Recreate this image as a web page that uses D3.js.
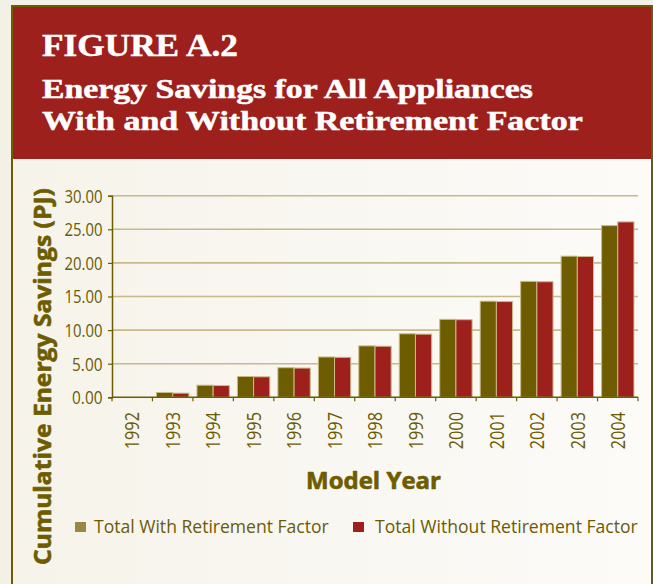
<!DOCTYPE html>
<html>
<head>
<meta charset="utf-8">
<script src="https://cdn.jsdelivr.net/npm/d3@7"></script>
<style>
  html, body { margin: 0; padding: 0; background: #f3f0e5; }
  svg { display: block; }
</style>
</head>
<body>
<svg id="chart" width="653" height="584"></svg>
<script>
// Model years on the x axis
const years = ["1992","1993","1994","1995","1996","1997","1998","1999","2000","2001","2002","2003","2004"];
// Cumulative energy savings (PJ)
const withRetirement    = [0, 0.72, 1.8, 3.1, 4.4, 6.0, 7.65, 9.45, 11.6, 14.3, 17.25, 21.0, 25.55];
const withoutRetirement = [0, 0.62, 1.75, 3.05, 4.35, 5.95, 7.6, 9.4, 11.55, 14.25, 17.2, 20.95, 26.1];
const seriesNames = ["Total With Retirement Factor", "Total Without Retirement Factor"];
const yTicks = [0, 5, 10, 15, 20, 25, 30];

const OLIVE = "#6d5c00", RED = "#9e201d", TEXT = "#6b5a05";
const SANS = "Open Sans, sans-serif", SERIF = "Liberation Serif, serif";

const svg = d3.select("#chart");

// Place a text at (x, y) with optional rotation, stretched or squeezed along its
// baseline so that it spans `len` pixels.
function placeText(parent, opt) {
  const g = parent.append("g");
  const t = g.append("text")
    .attr("x", 0).attr("y", 0)
    .attr("text-anchor", opt.anchor || "start")
    .attr("font-family", opt.family || SANS)
    .attr("font-size", opt.size)
    .attr("font-weight", opt.weight || "normal")
    .attr("fill", opt.fill)
    .text(opt.text);
  if (opt.stroke) t.attr("stroke", opt.fill).attr("stroke-width", opt.stroke).attr("stroke-linejoin", "round");
  const w = t.node().getComputedTextLength();
  const k = opt.len ? opt.len / w : 1;
  g.attr("transform", `translate(${opt.x},${opt.y}) rotate(${opt.rotate || 0}) scale(${k},1)`);
  return g;
}

// panel background with soft left-to-right lightening
const defs = svg.append("defs");
const grad = defs.append("linearGradient").attr("id", "panelBg").attr("x1", 0).attr("x2", 1).attr("y1", 0).attr("y2", 0);
grad.append("stop").attr("offset", "0%").attr("stop-color", "#f6f3ea");
grad.append("stop").attr("offset", "100%").attr("stop-color", "#fcfbf8");

svg.append("rect").attr("x", 13).attr("y", 7).attr("width", 638).attr("height", 600)
  .attr("fill", "url(#panelBg)");
// header band
svg.append("rect").attr("x", 13).attr("y", 7).attr("width", 638).attr("height", 152).attr("fill", RED);
// frame
svg.append("path").attr("d", "M12,600 V6 H652 V600")
  .attr("fill", "none").attr("stroke", OLIVE).attr("stroke-width", 2);

// header text
placeText(svg, { text: "FIGURE A.2", x: 42, y: 56, size: 32, weight: "bold", family: SERIF, fill: "#fff", len: 196, stroke: 0.5 });
placeText(svg, { text: "Energy Savings for All Appliances", x: 42, y: 98, size: 27, weight: "bold", family: SERIF, fill: "#fff", len: 491, stroke: 0.5 });
placeText(svg, { text: "With and Without Retirement Factor", x: 42, y: 130, size: 27, weight: "bold", family: SERIF, fill: "#fff", len: 541, stroke: 0.5 });

// plot scales
const x0 = 112, x1 = 638, yBottom = 397.3, yTop = 195.7;
const x = d3.scaleBand().domain(years).range([x0, x1]).paddingInner(0.2).paddingOuter(0.1);
const xStep = d3.scaleBand().domain(years).range([x0, x1]);
const xs = d3.scaleBand().domain([0, 1]).range([0, x.bandwidth()]);
const y = d3.scaleLinear().domain([0, 30]).range([yBottom, yTop]);

// gridlines
svg.append("g").selectAll("line").data(yTicks.filter(d => d > 0)).join("line")
  .attr("x1", x0).attr("x2", x1).attr("y1", d => y(d)).attr("y2", d => y(d))
  .attr("stroke", "#c8b98c").attr("stroke-width", 1.6);

// bars
const series = [withRetirement, withoutRetirement];
const colors = [OLIVE, RED];
series.forEach((vals, si) => {
  svg.append("g").selectAll("rect").data(years).join("rect")
    .attr("x", d => x(d) + xs(si))
    .attr("width", xs.bandwidth())
    .attr("y", (d, i) => y(vals[i]))
    .attr("height", (d, i) => yBottom - y(vals[i]))
    .attr("fill", colors[si])
    .attr("stroke", "#c9bb86").attr("stroke-width", 1);
});

// y axis
const yAxis = svg.append("g").attr("transform", `translate(${x0},0)`)
  .call(d3.axisLeft(y).tickValues(yTicks).tickSize(4).tickPadding(5).tickFormat(d3.format(".2f")));
yAxis.select(".domain").attr("stroke", OLIVE).attr("stroke-width", 1.5);
yAxis.selectAll(".tick line").attr("stroke", OLIVE).attr("stroke-width", 1.2);
yAxis.selectAll(".tick text").remove();
yAxis.selectAll(".tick").each(function (d) {
  const label = d3.format(".2f")(d);
  placeText(d3.select(this), { text: label, x: -9.5, y: 6.3, size: 17.8, fill: TEXT, anchor: "end", len: label.length * 7.6 });
});

// x axis: ticks sit between the year bands
const xAxisG = svg.append("g");
xAxisG.append("line").attr("x1", x0).attr("x2", x1).attr("y1", yBottom).attr("y2", yBottom)
  .attr("stroke", OLIVE).attr("stroke-width", 1.5);
xAxisG.selectAll("line.tk").data(years.concat(["end"])).join("line").attr("class", "tk")
  .attr("x1", (d, i) => x0 + i * xStep.step()).attr("x2", (d, i) => x0 + i * xStep.step())
  .attr("y1", yBottom).attr("y2", yBottom + 4)
  .attr("stroke", OLIVE).attr("stroke-width", 1.2);
years.forEach(yr => {
  placeText(xAxisG, { text: yr, x: xStep(yr) + xStep.bandwidth() / 2 + 7.2, y: 412, rotate: -90,
    size: 20, fill: TEXT, anchor: "end", len: 37.3 });
});

// axis titles
placeText(svg, { text: "Model Year", x: 373.5, y: 489, anchor: "middle", size: 23, weight: "bold",
  fill: OLIVE, len: 135, stroke: 0.6 });
placeText(svg, { text: "Cumulative Energy Savings (PJ)", x: 51, y: 376.5, rotate: -90, anchor: "middle",
  size: 23.5, weight: "bold", fill: OLIVE, len: 377, stroke: 0.6 });

// legend
const legendItems = [
  { name: seriesNames[0], color: "#9a8744", sx: 75, tx: 94, w: 235 },
  { name: seriesNames[1], color: RED, sx: 353, tx: 375, w: 263 }
];
const lg = svg.append("g");
legendItems.forEach(d => {
  lg.append("rect").attr("x", d.sx).attr("y", 522).attr("width", 11).attr("height", 10).attr("fill", d.color);
  placeText(lg, { text: d.name, x: d.tx, y: 532.7, size: 19, fill: TEXT, len: d.w });
});
</script>
</body>
</html>
